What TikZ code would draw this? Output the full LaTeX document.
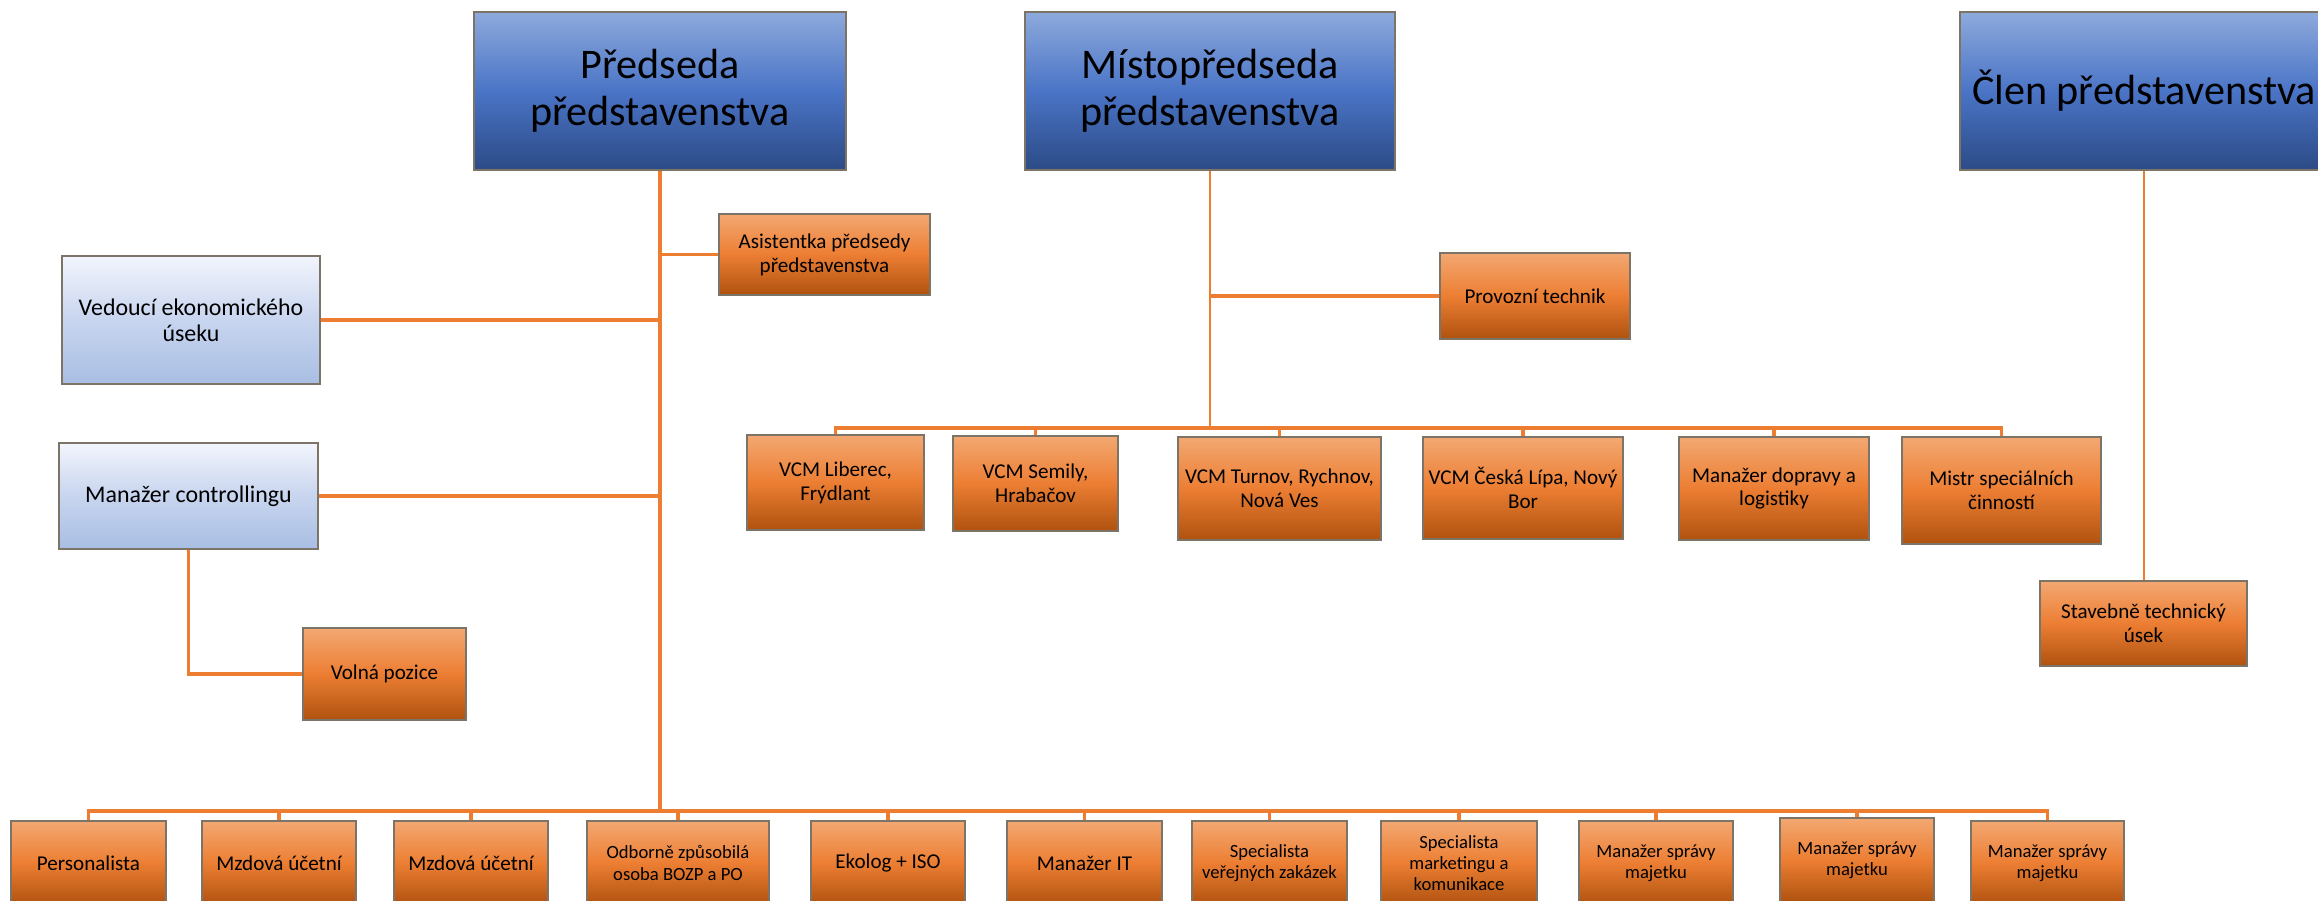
\documentclass[tikz,border=0pt]{standalone}
\usepackage{fontspec}
\setmainfont{Carlito}

\definecolor{boardtop}{HTML}{8EAADC}
\definecolor{boardmid}{HTML}{4A74C6}
\definecolor{boardbot}{HTML}{2C4B86}
\definecolor{unittop}{HTML}{F3A872}
\definecolor{unitmid}{HTML}{EC7E33}
\definecolor{unitbot}{HTML}{AF520F}
\definecolor{headtop}{HTML}{F2F5FC}
\definecolor{headmid}{HTML}{C8D5EF}
\definecolor{headbot}{HTML}{A8BEE3}
\definecolor{boxline}{HTML}{7D7468}
\definecolor{linkorange}{HTML}{ED7D31}

\tikzset{
  board/.style={draw=boxline, line width=0.5pt, top color=boardtop, bottom color=boardbot,
    middle color=boardmid, align=center, inner sep=1pt, font=\fontsize{12}{13.5}\selectfont},
  unit/.style={draw=boxline, line width=0.45pt, top color=unittop, bottom color=unitbot,
    middle color=unitmid, align=center, inner sep=1pt, font=\fontsize{6}{6.8}\selectfont},
  head/.style={draw=boxline, line width=0.45pt, top color=headtop, bottom color=headbot,
    middle color=headmid, align=center, inner sep=1pt, font=\fontsize{6.8}{7.5}\selectfont},
  tiny/.style={font=\fontsize{5.3}{6}\selectfont},
  link/.style={draw=linkorange, line width=0.9pt},
  thinlink/.style={draw=linkorange, line width=0.6pt}
}

\begin{document}
\begin{tikzpicture}[x=0.1mm, y=-0.1mm]
  \useasboundingbox (0,0) rectangle (2318,901);
  \clip (0,0) rectangle (2318,901);

  % board
  \node[board, minimum width=37.2mm, minimum height=15.8mm] (pred) at (660,91) {Předseda\\představenstva};
  \node[board, minimum width=37mm, minimum height=15.8mm] (mist) at (1210,91) {Místopředseda\\představenstva};
  \node[board, minimum width=36.8mm, minimum height=15.8mm] (clen) at (2144,91) {Člen představenstva};

  % under the chairman
  \node[unit, minimum width=21.1mm, minimum height=8.1mm] (asist) at (824.5,254.5) {Asistentka předsedy\\představenstva};
  \node[head, minimum width=25.8mm, minimum height=12.8mm] (ekon) at (191,320) {Vedoucí ekonomického\\úseku};
  \node[head, minimum width=25.9mm, minimum height=10.6mm] (contr) at (188.5,496) {Manažer controllingu};
  \node[unit, minimum width=16.3mm, minimum height=9.2mm] (volna) at (384.5,674) {Volná pozice};

  % under the vice-chairman
  \node[unit, minimum width=19mm, minimum height=8.6mm] (prov) at (1535,296) {Provozní technik};
  \node[unit, minimum width=17.7mm, minimum height=9.5mm] (liberec) at (835.5,482.5) {VCM Liberec,\\Frýdlant};
  \node[unit, minimum width=16.5mm, minimum height=9.5mm] (semily) at (1035.5,483.5) {VCM Semily,\\Hrabačov};
  \node[unit, minimum width=20.3mm, minimum height=10.3mm] (turnov) at (1279.5,488.5) {VCM Turnov, Rychnov,\\Nová Ves};
  \node[unit, minimum width=20mm, minimum height=10.2mm] (lipa) at (1523,488) {VCM Česká Lípa, Nový\\Bor};
  \node[unit, minimum width=19mm, minimum height=10.3mm] (doprava) at (1774,488.5) {Manažer dopravy a\\logistiky};
  \node[unit, minimum width=19.9mm, minimum height=10.7mm] (mistr) at (2001.5,490.5) {Mistr speciálních\\činností};

  % under the member
  \node[unit, minimum width=20.7mm, minimum height=8.5mm] (stav) at (2143.5,623.5) {Stavebně technický\\úsek};

  % bottom row
  \node[unit, minimum width=15.5mm, minimum height=8.4mm] (pers) at (88.5,863) {Personalista};
  \node[unit, minimum width=15.4mm, minimum height=8.4mm] (mzda1) at (279,863) {Mzdová účetní};
  \node[unit, minimum width=15.4mm, minimum height=8.4mm] (mzda2) at (471,863) {Mzdová účetní};
  \node[unit, tiny, minimum width=18.2mm, minimum height=8.4mm] (bozp) at (678,863) {Odborně způsobilá\\osoba BOZP a PO};
  \node[unit, minimum width=15.4mm, minimum height=8.4mm] (ekolog) at (888,863) {Ekolog + ISO};
  \node[unit, minimum width=15.5mm, minimum height=8.4mm] (it) at (1084.5,863) {Manažer IT};
  \node[unit, tiny, minimum width=15.5mm, minimum height=8.4mm] (zakazky) at (1269.5,863) {Specialista\\veřejných zakázek};
  \node[unit, tiny, minimum width=15.6mm, minimum height=8.4mm] (marketing) at (1459,863) {Specialista\\marketingu a\\komunikace};
  \node[unit, tiny, minimum width=15.4mm, minimum height=8.4mm] (majetek1) at (1656,863) {Manažer správy\\majetku};
  \node[unit, tiny, minimum width=15.4mm, minimum height=8.4mm] (majetek2) at (1857,860) {Manažer správy\\majetku};
  \node[unit, tiny, minimum width=15.3mm, minimum height=8.4mm] (majetek3) at (2047.5,863) {Manažer správy\\majetku};

  % connectors
  \coordinate (pbus) at (660,811);
  \coordinate (vbus) at (1210,428);

  \draw[link] (pred.south) -- (pbus);
  \draw[link] (asist.west) -- (asist.west -| pred.south);
  \draw[link] (ekon.east) -- (ekon.east -| pred.south);
  \draw[link] (contr.east) -- (contr.east -| pred.south);
  \draw[link] (contr.south) |- (volna.west);
  \foreach \n in {pers,mzda1,mzda2,bozp,ekolog,it,zakazky,marketing,majetek1,majetek2,majetek3}
    \draw[link] (pbus) -| (\n.north);

  \draw[thinlink] (mist.south) -- (vbus);
  \draw[link] (prov.west) -- (prov.west -| mist.south);
  \foreach \n in {liberec,semily,turnov,lipa,doprava,mistr}
    \draw[link] (vbus) -| (\n.north);

  \draw[thinlink] (clen.south) -- (clen.south |- stav.north);
\end{tikzpicture}
\end{document}
